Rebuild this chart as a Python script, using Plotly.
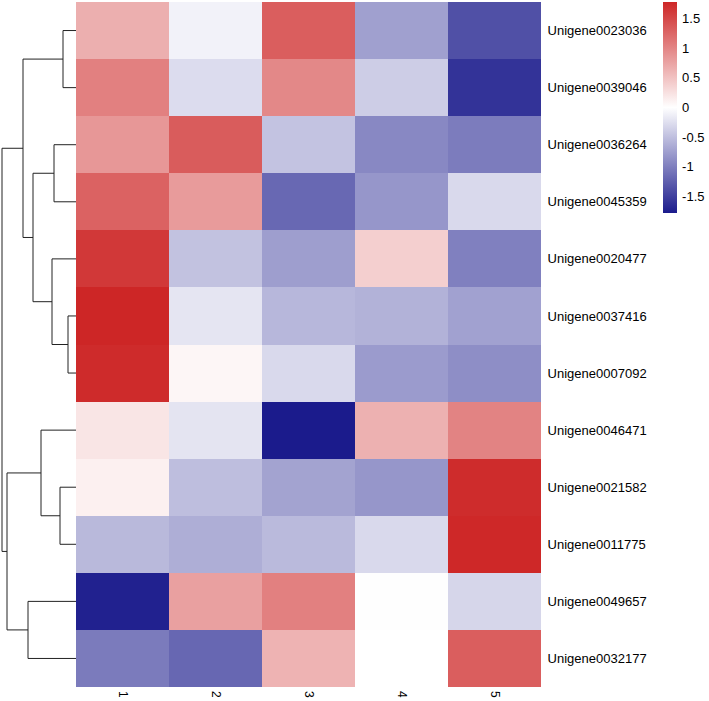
import plotly.graph_objects as go

genes = ["Unigene0023036", "Unigene0039046", "Unigene0036264", "Unigene0045359",
         "Unigene0020477", "Unigene0037416", "Unigene0007092", "Unigene0046471",
         "Unigene0021582", "Unigene0011775", "Unigene0049657", "Unigene0032177"]
samples = ["1", "2", "3", "4", "5"]

values = [
    [0.66, -0.10, 1.32, -0.74, -1.37],
    [1.04, -0.27, 0.98, -0.39, -1.59],
    [0.85, 1.34, -0.47, -0.93, -1.02],
    [1.29, 0.82, -1.18, -0.82, -0.30],
    [1.63, -0.48, -0.76, 0.39, -0.99],
    [1.78, -0.20, -0.56, -0.60, -0.73],
    [1.74, 0.07, -0.30, -0.78, -0.88],
    [0.21, -0.21, -1.78, 0.64, 1.02],
    [0.12, -0.51, -0.72, -0.82, 1.73],
    [-0.55, -0.63, -0.54, -0.30, 1.76],
    [-1.73, 0.78, 1.04, -0.01, -0.32],
    [-1.03, -1.19, 0.62, 0.00, 1.32],
]

# Row dendrogram: (left, right, height); leaves are row indices, nodes "n#"
merges = [
    (5, 6, 8),        # n0
    (0, 1, 13),       # n1
    (8, 9, 16),       # n2
    (2, 3, 22),       # n3
    (4, "n0", 24),    # n4
    (7, "n2", 35),    # n5
    ("n3", "n4", 43), # n6
    (10, 11, 48),     # n7
    ("n1", "n6", 53), # n8
    ("n5", "n7", 69), # n9
    ("n8", "n9", 74), # n10
]

cb_ticks = [1.5, 1, 0.5, 0, -0.5, -1, -1.5]
cb_text = ["1.5", "1", "0.5", "0", "-0.5", "-1", "-1.5"]

W, H = 709, 701
ML, MR, MT, MB = 0, 0, 2, 14
hm_left, hm_right = 76, 541

fig = go.Figure()

fig.add_trace(go.Heatmap(
    z=values, x=list(range(len(samples))), y=list(range(len(genes))),
    zmin=-1.78, zmax=1.78,
    colorscale=[[0, "#1B1B8C"], [0.5, "#FFFFFF"], [1, "#CD2626"]],
    xgap=0, ygap=0,
    colorbar=dict(
        x=663 / W, xanchor="left", xpad=0,
        y=1, yanchor="top", ypad=0, len=211 / (H - MT - MB),
        thickness=14, outlinewidth=0,
        ticks="outside", ticklen=3, tickcolor="rgba(0,0,0,0)",
        tickvals=cb_ticks, ticktext=cb_text,
        tickfont=dict(family="Liberation Sans", size=13, color="#000"),
    ),
    xaxis="x", yaxis="y",
))

# dendrogram
pos = {}
hgt = {}
for i in range(len(genes)):
    pos[i] = float(i)
    hgt[i] = 0.0
xs, ys = [], []
for k, (a, b, h) in enumerate(merges):
    ya, yb = pos[a], pos[b]
    ha, hb = hgt[a], hgt[b]
    xs += [ha, h, h, hb, None]
    ys += [ya, ya, yb, yb, None]
    name = "n%d" % k
    pos[name] = (ya + yb) / 2
    hgt[name] = h

fig.add_trace(go.Scatter(x=xs, y=ys, mode="lines",
                         line=dict(color="#222222", width=1),
                         hoverinfo="skip", showlegend=False,
                         xaxis="x2", yaxis="y"))

plot_w = W - ML - MR
fig.update_layout(
    width=W, height=H,
    margin=dict(l=ML, r=MR, t=MT, b=MB, pad=0, autoexpand=False),
    paper_bgcolor="white", plot_bgcolor="white",
    font=dict(family="Liberation Sans", size=13, color="#000"),
    xaxis=dict(domain=[hm_left / plot_w, hm_right / plot_w],
               range=[-0.5, 4.5], tickvals=list(range(5)), ticktext=samples,
               tickangle=90, showgrid=False, zeroline=False, ticks="",
               showline=False, automargin=False, ticklabelstandoff=3,
               tickfont=dict(size=12, color="#000")),
    yaxis=dict(range=[11.5, -0.5], tickvals=list(range(12)), ticktext=genes,
               side="right", showgrid=False, zeroline=False, ticks="outside",
               ticklen=3, tickcolor="rgba(0,0,0,0)",
               showline=False, automargin=False, anchor="x",
               tickfont=dict(size=13, color="#000")),
    xaxis2=dict(domain=[0, hm_left / plot_w], range=[76, 0],
                showgrid=False, zeroline=False, showticklabels=False,
                ticks="", showline=False, anchor="y"),
)

fig.write_html("out.html", config={"displayModeBar": False},
               post_script="document.body.style.margin='0';document.body.style.overflow='hidden';")
